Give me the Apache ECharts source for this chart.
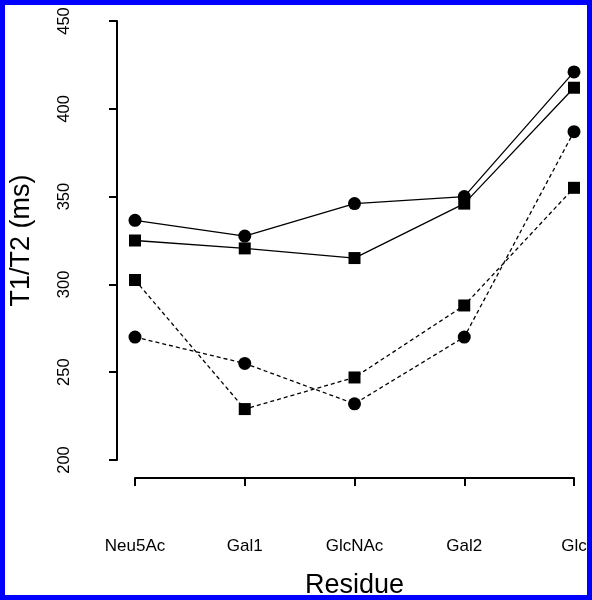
<!DOCTYPE html>
<html><head><meta charset="utf-8">
<script src="https://cdn.jsdelivr.net/npm/echarts@6/dist/echarts.min.js"></script>
<style>html,body{margin:0;padding:0;background:#fff}#c{width:592px;height:600px}</style>
</head><body><div id="c"></div>
<script>
const categories = ['Neu5Ac', 'Gal1', 'GlcNAc', 'Gal2', 'Glc'];
const yTicks = [200, 250, 300, 350, 400, 450];
const solidCircle = [336.5, 327.5, 346, 350, 421];
const solidSquare = [325, 320.5, 315, 346, 412];
const dashedCircle = [270, 255, 232, 270, 387];
const dashedSquare = [302.5, 229, 247, 288, 355];

const font = '"Liberation Sans", Arial, sans-serif';
function mk(data, symbol, dashed) {
  return {
    type: 'line', data: data, symbol: symbol, symbolSize: symbol === 'rect' ? 12 : 13,
    itemStyle: { color: '#000' },
    lineStyle: { color: '#000', width: 1.3, type: dashed ? [4, 3] : 'solid' },
    emphasis: { disabled: true }, animation: false
  };
}
const chart = echarts.init(document.getElementById('c'), null, { renderer: 'canvas' });
chart.setOption({
  animation: false,
  grid: { left: 135, right: 18, top: 21, bottom: 140, containLabel: false, outerBoundsMode: 'none' },
  xAxis: {
    type: 'category', data: categories, boundaryGap: false, offset: 18,
    axisLine: { lineStyle: { color: '#000', width: 2 } },
    axisTick: { alignWithLabel: true, length: 8, lineStyle: { color: '#000', width: 2 } },
    axisLabel: { color: '#000', fontFamily: font, fontSize: 17, margin: 60 },
    splitLine: { show: false },
    name: 'Residue', nameLocation: 'middle', nameGap: 94,
    nameTextStyle: { color: '#000', fontFamily: font, fontSize: 27 }
  },
  yAxis: {
    type: 'value', min: yTicks[0], max: yTicks[yTicks.length - 1], interval: 50, offset: 18,
    axisLine: { show: true, lineStyle: { color: '#000', width: 2 } },
    axisTick: { show: true, length: 8, lineStyle: { color: '#000', width: 2 } },
    axisLabel: { color: '#000', fontFamily: font, fontSize: 16.5, rotate: 90, margin: 44, align: 'center', verticalAlign: 'bottom' },
    splitLine: { show: false },
    name: 'T1/T2 (ms)', nameLocation: 'middle', nameGap: 82, nameRotate: 90,
    nameTextStyle: { color: '#000', fontFamily: font, fontSize: 27 }
  },
  series: [
    mk(solidCircle, 'circle', false),
    mk(solidSquare, 'rect', false),
    mk(dashedCircle, 'circle', true),
    mk(dashedSquare, 'rect', true)
  ],
  graphic: [{
    type: 'rect', z: 100, silent: true,
    shape: { x: 2.5, y: 2.5, width: 587, height: 595 },
    style: { fill: 'none', stroke: '#0000ff', lineWidth: 5 }
  }]
});
</script></body></html>
